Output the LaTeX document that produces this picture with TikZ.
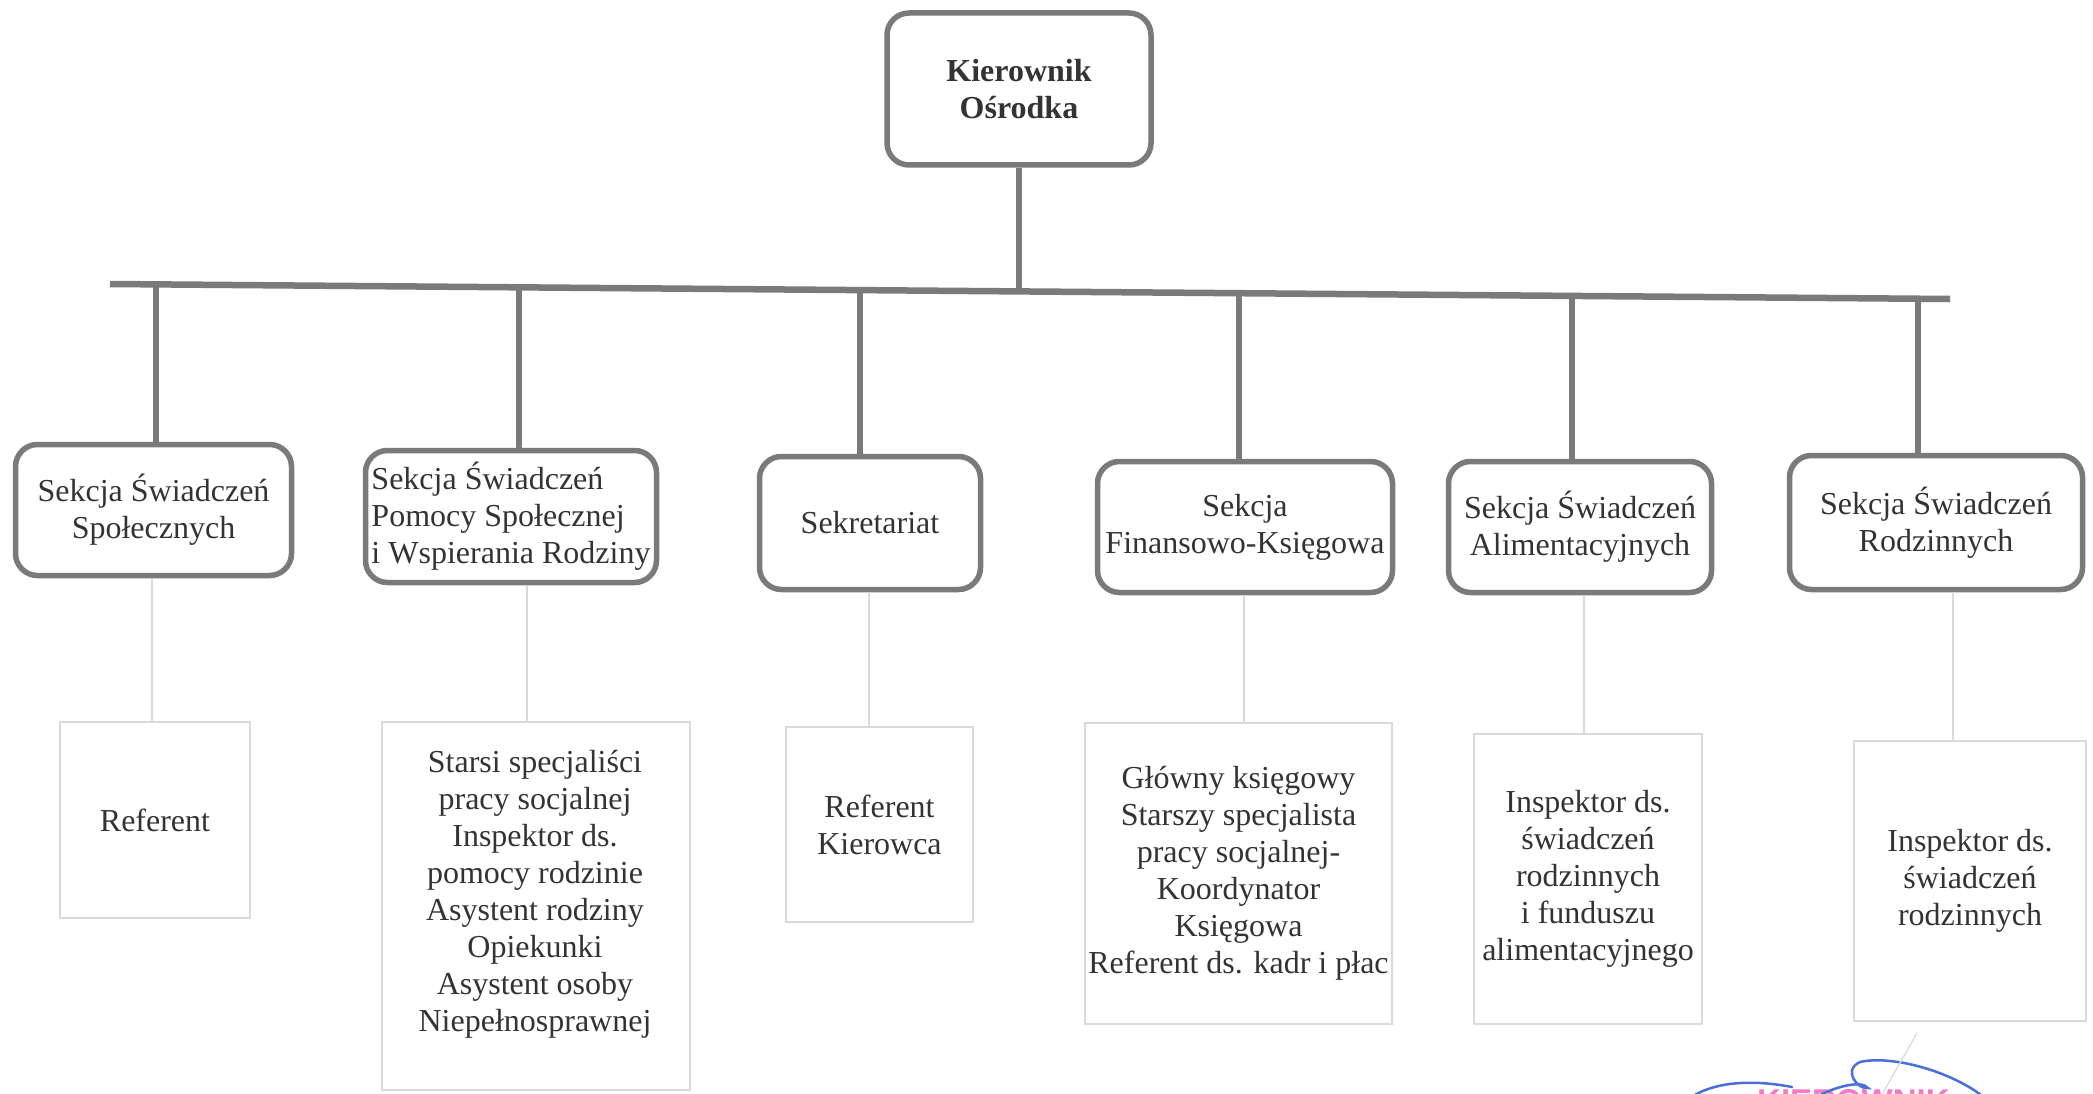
\documentclass[tikz,border=0pt]{standalone}
\usepackage{fontspec}
\setmainfont{Liberation Serif}
\newfontfamily\stampfont{Liberation Sans}
\definecolor{boxgray}{HTML}{7A7A7A}
\definecolor{txt}{HTML}{333333}
\definecolor{faint}{HTML}{DADADA}
\definecolor{stamppink}{HTML}{F07CC8}
\definecolor{sigblue}{HTML}{4A6FD8}
\begin{document}
\begin{tikzpicture}[x=1pt,y=-1pt,
  every node/.style={text=txt, font=\fontsize{32}{37}\selectfont},
  mainbox/.style={draw=boxgray, line width=5.5pt, rounded corners=22pt, fill=white, align=center, inner sep=0pt},
  subbox/.style={draw=faint, line width=1.3pt, fill=white, align=center, inner sep=0pt},
  link/.style={draw=boxgray, line width=6.5pt},
  faintlink/.style={draw=faint, line width=1.3pt}]

\useasboundingbox (0,0) rectangle (2093,1094);
\fill[white] (0,0) rectangle (2093,1094);

% bus coordinates
\coordinate (busL) at (110,284);
\coordinate (busR) at (1950,299);
\coordinate (dT) at (1020,291.4);
\coordinate (d1) at (156,284.4);
\coordinate (d2) at (519,287.3);
\coordinate (d3) at (860,290.1);
\coordinate (d4) at (1239,293.2);
\coordinate (d5) at (1572,295.9);
\coordinate (d6) at (1918,298.7);
% thin connector x positions
\coordinate (v1) at (152,0);
\coordinate (v2) at (527,0);
\coordinate (v3) at (869,0);
\coordinate (v4) at (1244,0);
\coordinate (v5) at (1584,0);
\coordinate (v6) at (1953,0);

% top box
\node[mainbox, minimum width=264pt, minimum height=152pt,
      font=\bfseries\fontsize{32}{37}\selectfont] (top) at (1019,89) {Kierownik\\Ośrodka};

% section boxes
\node[mainbox, minimum width=276pt, minimum height=131pt] (b1) at (153.5,510) {Sekcja Świadczeń\\Społecznych};
\node[mainbox, minimum width=291pt, minimum height=132pt, align=left] (b2) at (511,516.5) {Sekcja Świadczeń\\Pomocy Społecznej\\i Wspierania Rodziny};
\node[mainbox, minimum width=221pt, minimum height=133pt] (b3) at (870,523) {Sekretariat};
\node[mainbox, minimum width=295pt, minimum height=131pt] (b4) at (1245,527) {Sekcja\\Finansowo-Księgowa};
\node[mainbox, minimum width=263pt, minimum height=131pt] (b5) at (1580,527) {Sekcja Świadczeń\\Alimentacyjnych};
\node[mainbox, minimum width=293pt, minimum height=134pt] (b6) at (1936,522.5) {Sekcja Świadczeń\\Rodzinnych};

% lower boxes
\node[subbox, minimum width=190pt, minimum height=196pt] (l1) at (155,820) {Referent};
\node[subbox, minimum width=308pt, minimum height=368pt] (l2) at (536,906) {};
\node[align=center, inner sep=0pt] (l2t) at (535,894.5) {Starsi specjaliści\\pracy socjalnej\\Inspektor ds.\\pomocy rodzinie\\Asystent rodziny\\Opiekunki\\Asystent osoby\\Niepełnosprawnej};
\node[subbox, minimum width=187pt, minimum height=195pt] (l3) at (879.5,824.5) {Referent\\Kierowca};
\node[subbox, minimum width=307pt, minimum height=301pt] (l4) at (1238.5,873.5) {Główny księgowy\\Starszy specjalista\\pracy socjalnej-\\Koordynator\\Księgowa\\Referent ds. kadr i płac};
\node[subbox, minimum width=228pt, minimum height=290pt] (l5) at (1588,879) {Inspektor ds.\\świadczeń\\rodzinnych\\i funduszu\\alimentacyjnego};
\node[subbox, minimum width=232pt, minimum height=280pt] (l6) at (1970,881) {Inspektor ds.\\świadczeń\\rodzinnych};

% connectors
\draw[link] (busL) -- (busR);
\draw[link] (top.south) -- (top.south |- dT);
\draw[link] (d1) -- (d1 |- b1.north);
\draw[link] (d2) -- (d2 |- b2.north);
\draw[link] (d3) -- (d3 |- b3.north);
\draw[link] (d4) -- (d4 |- b4.north);
\draw[link] (d5) -- (d5 |- b5.north);
\draw[link] (d6) -- (d6 |- b6.north);

\draw[faintlink] (b1.south -| v1) -- (l1.north -| v1);
\draw[faintlink] (b2.south -| v2) -- (l2.north -| v2);
\draw[faintlink] (b3.south -| v3) -- (l3.north -| v3);
\draw[faintlink] (b4.south -| v4) -- (l4.north -| v4);
\draw[faintlink] (b5.south -| v5) -- (l5.north -| v5);
\draw[faintlink] (b6.south -| v6) -- (l6.north -| v6);

% stamp and signature (cut at the bottom edge)
\begin{scope}
\clip (0,0) rectangle (2093,1094);
\node[font=\stampfont\bfseries\fontsize{33}{33}\selectfont, text=stamppink, anchor=base west, inner sep=0pt] (stamp) at (1757,1112) {KIEROWNIK};
\draw[sigblue, line width=2.5pt, line cap=round] (1690,1098) .. controls (1710,1084) and (1745,1078) .. (1792,1087);
\draw[sigblue, line width=2.5pt, line cap=round] (1815,1098) .. controls (1835,1086) and (1862,1080) .. (1868,1088)
  .. controls (1858,1090) and (1842,1070) .. (1860,1062)
  .. controls (1890,1055) and (1950,1070) .. (1985,1098);
\draw[faint, line width=1.3pt] (1917,1033) -- (1880,1098);
\end{scope}
\end{tikzpicture}
\end{document}
